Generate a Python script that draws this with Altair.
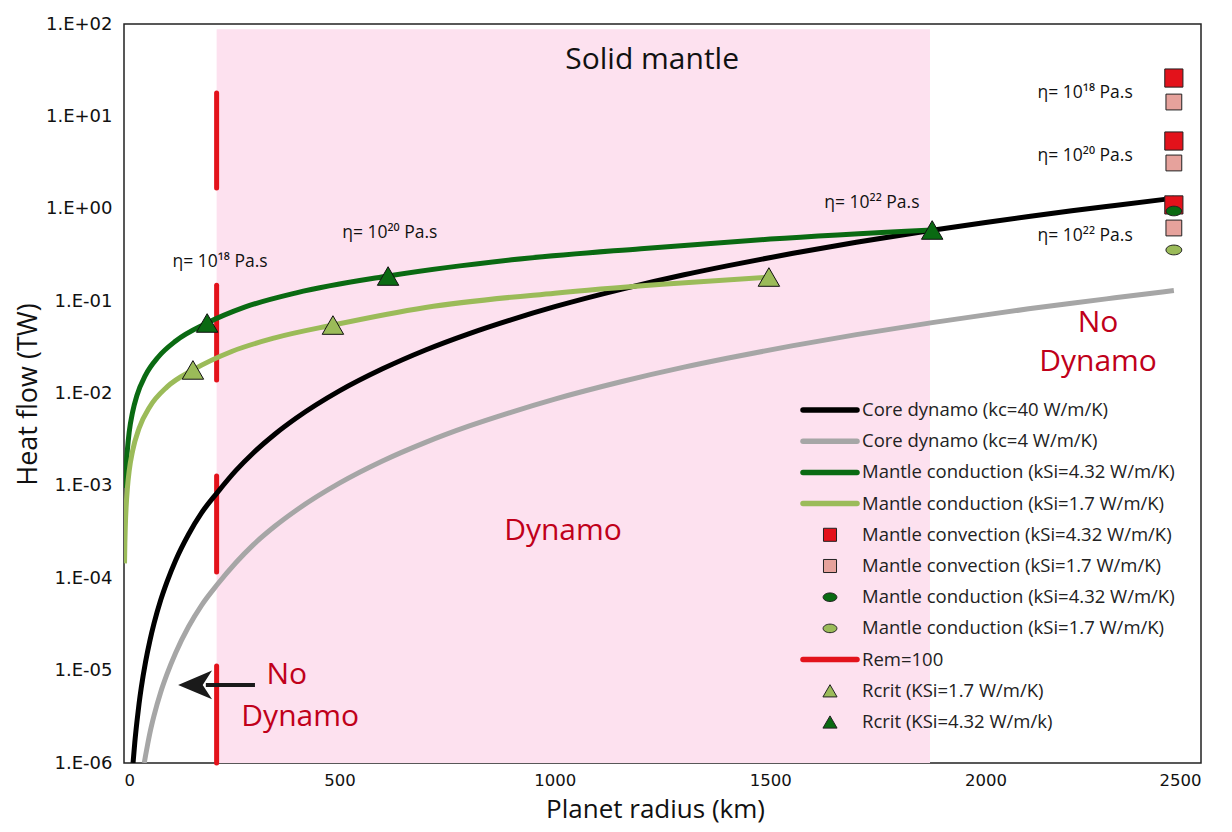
import altair as alt
import pandas as pd

# ---------------- data ----------------
# Core dynamo (kc=40 W/m/K)
black_r = [21, 25, 30, 35, 40, 50, 60, 70, 85, 100, 120, 150, 180, 217, 260, 300, 350, 400, 500, 600, 700,
           800, 900, 1000, 1156, 1300, 1400, 1550, 1700, 1876, 2000, 2100, 2200, 2300, 2437]
black_q = [1.0e-6, 1.66e-6, 2.8e-6, 4.4e-6, 6.5e-6, 1.24e-5, 2.1e-5, 3.28e-5, 5.77e-5, 9.2e-5, 1.57e-4,
           3.0e-4, 5.1e-4, 8.5e-4, 1.47e-3, 2.27e-3, 3.62e-3, 5.42e-3, 0.01066, 0.0185, 0.0296,
           0.0443, 0.0632, 0.0871, 0.135, 0.193, 0.241, 0.328, 0.434, 0.585, 0.711, 0.825, 0.95, 1.086, 1.3]
# Core dynamo (kc=4 W/m/K)
gray_r = [47, 50, 55, 60, 70, 85, 100, 120, 150, 180, 217, 260, 300, 350, 400, 500, 600, 700, 800, 900, 1000,
          1156, 1300, 1400, 1550, 1700, 1876, 2000, 2100, 2200, 2300, 2437]
gray_q = [1.0e-6, 1.2e-6, 1.6e-6, 2.1e-6, 3.3e-6, 5.8e-6, 9.2e-6, 1.56e-5, 3.0e-5, 5.1e-5, 8.6e-5, 1.48e-4,
          2.3e-4, 3.65e-4, 5.45e-4, 1.07e-3, 1.86e-3, 2.96e-3, 4.43e-3, 6.3e-3, 8.7e-3, 0.0135, 0.0193,
          0.0241, 0.0328, 0.0434, 0.0585, 0.071, 0.0825, 0.095, 0.1086, 0.13]
# Mantle conduction (kSi=4.32 W/m/K)
dg_r = [3, 5, 8, 12, 20, 30, 50, 80, 120, 193, 280, 400, 613, 900, 1200, 1500, 1876]
dg_q = [9.5e-4, 1.6e-3, 2.5e-3, 3.8e-3, 6.3e-3, 9.5e-3, 0.0158, 0.025, 0.037, 0.058, 0.086, 0.123, 0.187,
        0.28, 0.37, 0.47, 0.589]
# Mantle conduction (kSi=1.7 W/m/K)
lg_r = [1.2, 2, 3, 5, 8, 12, 20, 35, 60, 100, 160, 250, 350, 485, 700, 1000, 1250, 1497]
lg_q = [1.45e-4, 2.4e-4, 3.6e-4, 6.0e-4, 9.6e-4, 1.45e-3, 2.4e-3, 4.2e-3, 7.2e-3, 0.0118, 0.018, 0.0285,
        0.040, 0.0551, 0.0855, 0.122, 0.152, 0.182]

# Rcrit triangles
tri_dark_r = [193, 613, 1876]
tri_dark_q = [0.058, 0.187, 0.589]
tri_light_r = [160, 485, 1497]
tri_light_q = [0.018, 0.0551, 0.1824]

# Rem = 100 segments
rem_r = [215, 215, 215, 215]
rem_top = [17.9, 0.149, 1.28e-3, 1.12e-5]
rem_bottom = [1.68, 0.014, 1.17e-4, 1.0e-6]

# Solid mantle zone
zone_r = [215]
zone_r2 = [1871]
zone_q = [1.0e-6]
zone_q2 = [88]

# Markers at the present planet radius
conv_r = [2437, 2437, 2437]
conv_hi_q = [26.0, 5.41, 1.10]      # kSi=4.32
conv_lo_q = [14.3, 3.13, 0.619]     # kSi=1.7
cond_r = [2437]
cond_hi_q = [0.945]
cond_lo_q = [0.358]

# Arrow ("No Dynamo" on the left)
arrow_r = [190]
arrow_r2 = [304]
arrow_head_r = [165]
arrow_q = [7.0e-6]

# Text annotations
eta_text = ["η= 10¹⁸ Pa.s", "η= 10²⁰ Pa.s", "η= 10²² Pa.s", "η= 10¹⁸ Pa.s", "η= 10²⁰ Pa.s", "η= 10²² Pa.s"]
eta_r = [223, 617, 1736, 2231, 2231, 2231]
eta_q = [0.265, 0.546, 1.154, 17.9, 3.72, 0.507]

red_text = ["Dynamo", "No", "Dynamo", "No", "Dynamo"]
red_r = [1019, 2261, 2261, 378, 409]
red_q = [3.25e-4, 0.058, 0.0219, 8.97e-6, 3.15e-6]

black_text = ["Solid mantle"]
black_text_r = [1226]
black_text_q = [40.8]

x_ticks = [0, 500, 1000, 1500, 2000, 2500]
y_ticks = [1e-6, 1e-5, 1e-4, 1e-3, 1e-2, 1e-1, 1e0, 1e1, 1e2]

legend_labels = [
    "Core dynamo (kc=40 W/m/K)",
    "Core dynamo (kc=4 W/m/K)",
    "Mantle conduction (kSi=4.32 W/m/K)",
    "Mantle conduction (kSi=1.7 W/m/K)",
    "Mantle convection (kSi=4.32 W/m/K)",
    "Mantle convection (kSi=1.7 W/m/K)",
    "Mantle conduction (kSi=4.32 W/m/K)",
    "Mantle conduction (kSi=1.7 W/m/K)",
    "Rem=100",
    "Rcrit (KSi=1.7 W/m/K)",
    "Rcrit (KSi=4.32 W/m/k)",
]

# ---------------- styles ----------------
C_BLACK = "#000000"
C_GRAY = "#A6A6A6"
C_DGREEN = "#0A6A12"
C_LGREEN = "#9BBB59"
C_RED = "#E3121B"
C_PINKSQ = "#E6A29C"
C_ZONE = "#FDE1EF"
C_REDTXT = "#C0001A"
ELLIPSE = "M-1,0A1,0.62,0,1,0,1,0A1,0.62,0,1,0,-1,0Z"
ARROWHEAD = "M-1,0L1,-0.85L0.45,0L1,0.85Z"

xscale = alt.Scale(domain=[0, 2500], nice=False, zero=False)
yscale = alt.Scale(type="log", domain=[1e-6, 100], nice=False)

label_expr = ("'1.E' + (round(log(datum.value)/LN10) < 0 ? '-' : '+') + "
              "(abs(round(log(datum.value)/LN10)) < 10 ? '0' : '') + abs(round(log(datum.value)/LN10))")

xaxis = alt.Axis(values=x_ticks, format="d", title="Planet radius (km)", grid=False, ticks=False, domain=False,
                 labelFont="DejaVu Sans", labelFontSize=16.5, labelColor="#111", labelPadding=9,
                 titleFont="Open Sans", titleFontSize=26, titleFontWeight="normal", titleColor="#111",
                 titleX=531, titleY=54, titleBaseline="alphabetic", titleAlign="center")
yaxis = alt.Axis(values=y_ticks, labelExpr=label_expr, title="Heat flow (TW)", grid=False, ticks=False,
                 domain=False, labelFont="DejaVu Sans", labelFontSize=18, labelColor="#111", labelPadding=12,
                 titleFont="Open Sans", titleFontSize=27, titleFontWeight="normal", titleColor="#111",
                 titleX=-82, titleY=370, titleAngle=270, titleAlign="center", titleBaseline="bottom")

X = alt.X("r:Q", scale=xscale, axis=xaxis)
Y = alt.Y("q:Q", scale=yscale, axis=yaxis)


def df(**cols):
    return pd.DataFrame(cols)


zone = alt.Chart(df(r=zone_r, r2=zone_r2, q=zone_q, q2=zone_q2)).mark_rect(color=C_ZONE).encode(
    x=X, x2="r2:Q", y=Y, y2="q2:Q")

rem = alt.Chart(df(r=rem_r, q=rem_bottom, q2=rem_top)).mark_rule(
    color=C_RED, strokeWidth=5, strokeCap="round").encode(x=X, y=Y, y2="q2:Q")


def curve(r, q, color):
    return alt.Chart(df(r=r, q=q)).mark_line(
        color=color, strokeWidth=5, interpolate="monotone", clip=True).encode(x=X, y=Y)


lines = [curve(black_r, black_q, C_BLACK), curve(gray_r, gray_q, C_GRAY),
         curve(dg_r, dg_q, C_DGREEN), curve(lg_r, lg_q, C_LGREEN)]

arrow_line = alt.Chart(df(r=arrow_r, r2=arrow_r2, q=arrow_q)).mark_rule(
    color="#1a1a1a", strokeWidth=4).encode(x=X, x2="r2:Q", y=Y)
arrow_head = alt.Chart(df(r=arrow_head_r, q=arrow_q)).mark_point(
    shape=ARROWHEAD, size=1150, filled=True, color="#1a1a1a", opacity=1).encode(x=X, y=Y)

tri_l = alt.Chart(df(r=tri_light_r, q=tri_light_q)).mark_point(
    shape="triangle-up", size=460, filled=True, fill=C_LGREEN, stroke="#111", strokeWidth=1, opacity=1
).encode(x=X, y=Y)
tri_d = alt.Chart(df(r=tri_dark_r, q=tri_dark_q)).mark_point(
    shape="triangle-up", size=460, filled=True, fill=C_DGREEN, stroke="#111", strokeWidth=1, opacity=1
).encode(x=X, y=Y)

sq_hi = alt.Chart(df(r=conv_r, q=conv_hi_q)).mark_point(
    shape="square", size=330, filled=True, fill=C_RED, stroke="#222", strokeWidth=1, opacity=1
).encode(x=X, y=Y)
sq_lo = alt.Chart(df(r=conv_r, q=conv_lo_q)).mark_point(
    shape="square", size=250, filled=True, fill=C_PINKSQ, stroke="#222", strokeWidth=1, opacity=1
).encode(x=X, y=Y)
el_hi = alt.Chart(df(r=cond_r, q=cond_hi_q)).mark_point(
    shape=ELLIPSE, size=240, filled=True, fill=C_DGREEN, stroke="#222", strokeWidth=1, opacity=1
).encode(x=X, y=Y)
el_lo = alt.Chart(df(r=cond_r, q=cond_lo_q)).mark_point(
    shape=ELLIPSE, size=250, filled=True, fill=C_LGREEN, stroke="#222", strokeWidth=1, opacity=1
).encode(x=X, y=Y)

eta = alt.Chart(df(r=eta_r, q=eta_q, t=eta_text)).mark_text(
    font="Open Sans", fontSize=17.5, color="#111", align="center", baseline="middle").encode(x=X, y=Y, text="t:N")
red_lbl = alt.Chart(df(r=red_r, q=red_q, t=red_text)).mark_text(
    font="Open Sans", fontSize=30, color=C_REDTXT, align="center", baseline="middle").encode(x=X, y=Y, text="t:N")
blk_lbl = alt.Chart(df(r=black_text_r, q=black_text_q, t=black_text)).mark_text(
    font="Open Sans", fontSize=30, color="#111", align="center", baseline="middle").encode(x=X, y=Y, text="t:N")

main = alt.layer(zone, rem, *lines, arrow_line, arrow_head, tri_l, tri_d, sq_hi, sq_lo, el_hi, el_lo,
                 eta, red_lbl, blk_lbl)

# ---------------- legend (built from the label list) ----------------
leg_kind = ["line", "line", "line", "line", "square", "square", "ellipse", "ellipse", "line", "tri", "tri"]
leg_color = [C_BLACK, C_GRAY, C_DGREEN, C_LGREEN, C_RED, C_PINKSQ, C_DGREEN, C_LGREEN, C_RED, C_LGREEN, C_DGREEN]
leg = pd.DataFrame({"row": list(range(len(legend_labels))), "label": legend_labels,
                    "kind": leg_kind, "col": leg_color})
LY = alt.Y("row:Q", scale=alt.Scale(domain=[0, 10], range=[386, 698]), axis=None)

leg_lines = alt.Chart(leg).transform_filter("datum.kind == 'line'").mark_rule(
    strokeWidth=5.5, strokeCap="round").encode(
    x=alt.value(679), x2=alt.value(733), y=LY, color=alt.Color("col:N", scale=None))
leg_sq = alt.Chart(leg).transform_filter("datum.kind == 'square'").mark_point(
    shape="square", size=170, filled=True, stroke="#222", strokeWidth=1, opacity=1).encode(
    x=alt.value(706), y=LY, fill=alt.Fill("col:N", scale=None))
leg_el = alt.Chart(leg).transform_filter("datum.kind == 'ellipse'").mark_point(
    shape=ELLIPSE, size=190, filled=True, stroke="#222", strokeWidth=1, opacity=1).encode(
    x=alt.value(706), y=LY, fill=alt.Fill("col:N", scale=None))
leg_tri = alt.Chart(leg).transform_filter("datum.kind == 'tri'").mark_point(
    shape="triangle-up", size=200, filled=True, stroke="#222", strokeWidth=1, opacity=1).encode(
    x=alt.value(706), y=LY, fill=alt.Fill("col:N", scale=None))
leg_txt = alt.Chart(leg).mark_text(font="Open Sans", fontSize=18.5, color="#222", align="left",
                                   baseline="middle").encode(x=alt.value(738), y=LY, text="label:N")

legend = alt.layer(leg_lines, leg_sq, leg_el, leg_tri, leg_txt)

chart = alt.layer(main, legend).resolve_scale(y="independent").properties(
    width=1077, height=739,
    padding={"left": 116, "top": 16, "right": 20, "bottom": 61},
    autosize=alt.AutoSizeParams(type="none"),
    background="white",
).configure_view(stroke="#222", strokeWidth=1.5)

chart.save("out.html", embed_options={"renderer": "svg", "actions": False})
